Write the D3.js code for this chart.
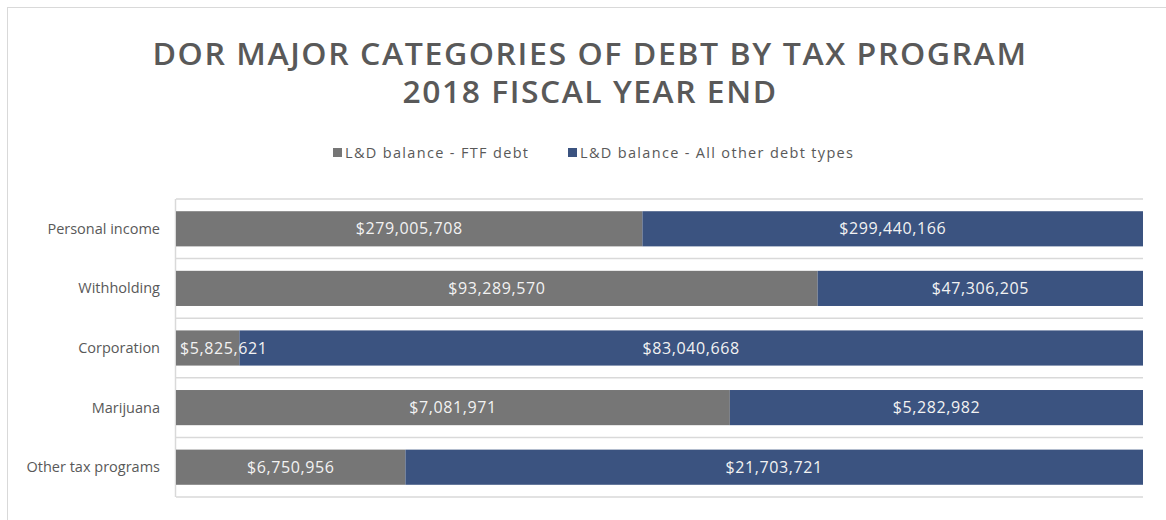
<!DOCTYPE html>
<html lang="en">
<head>
  <meta charset="UTF-8">
  <title>DOR Major Categories of Debt by Tax Program</title>
  <script src="https://d3js.org/d3.v7.min.js"></script>
  <style>
    body { margin: 0; background: #fff; font-family: "Open Sans", sans-serif; }
    .title { font-weight: 600; fill: #595959; font-size: 31px; letter-spacing: 1.5px; }
    .legend text, .ylabel { fill: #595959; font-size: 14.5px; }
    .value { fill: #f2f2f2; font-size: 16px; letter-spacing: 0.6px; }
  </style>
</head>
<body>
  <svg width="1166" height="520"></svg>

  <script>
    const categories = ["Personal income", "Withholding", "Corporation", "Marijuana", "Other tax programs"];
    const ftfDebt = [279005708, 93289570, 5825621, 7081971, 6750956];
    const otherDebt = [299440166, 47306205, 83040668, 5282982, 21703721];
    const seriesNames = ["L&D balance - FTF debt", "L&D balance - All other debt types"];
    const colors = ["#767676", "#3b5380"];

    const data = categories.map((c, i) => ({ cat: c, ftf: ftfDebt[i], other: otherDebt[i] }));

    const svg = d3.select("svg");
    const margin = { top: 199, right: 23, bottom: 23, left: 176 };
    const width = 1166, height = 520;

    // outer chart border
    svg.append("rect")
      .attr("x", 7.5).attr("y", 7.5)
      .attr("width", 1180).attr("height", 540)
      .attr("fill", "none").attr("stroke", "#d9d9d9");

    // title
    const titles = ["DOR MAJOR CATEGORIES OF DEBT BY TAX PROGRAM", "2018 FISCAL YEAR END"];
    const titleLen = [875, 375];
    svg.selectAll(".title")
      .data(titles)
      .enter()
      .append("text")
        .attr("class", "title")
        .attr("x", 590)
        .attr("y", (d, i) => 65 + i * 38)
        .attr("text-anchor", "middle")
        .attr("textLength", (d, i) => titleLen[i])
        .attr("lengthAdjust", "spacingAndGlyphs")
        .text(d => d);

    const x = d3.scaleLinear()
      .domain([0, 1])
      .range([margin.left, width - margin.right]);

    const y = d3.scaleBand()
      .domain(categories)
      .range([margin.top, height - margin.bottom])
      .paddingInner(0.41)
      .paddingOuter(0.205);

    // band separators
    const step = y.step();
    const y0 = y.range()[0];
    svg.append("g")
      .selectAll("line")
      .data(d3.range(categories.length + 1))
      .enter()
      .append("line")
        .attr("x1", x(0)).attr("x2", x(1))
        .attr("y1", i => y0 + i * step)
        .attr("y2", i => y0 + i * step)
        .attr("stroke", "#d9d9d9").attr("stroke-width", 1.5);

    // left axis line
    svg.append("line")
      .attr("x1", x(0) - 0.5).attr("x2", x(0) - 0.5)
      .attr("y1", y0).attr("y2", y0 + categories.length * step)
      .attr("stroke", "#d9d9d9").attr("stroke-width", 1.5);

    // category labels
    svg.selectAll(".ylabel")
      .data(categories)
      .enter()
      .append("text")
        .attr("class", "ylabel")
        .attr("x", 160)
        .attr("y", d => y(d) + y.bandwidth() / 2)
        .attr("dy", "0.35em")
        .attr("text-anchor", "end")
        .text(d => d);

    const stack = d3.stack().keys(["ftf", "other"]).offset(d3.stackOffsetExpand);
    const series = stack(data);
    const fmt = v => "$" + d3.format(",")(v);

    svg.selectAll(".series")
      .data(series)
      .enter()
      .append("g")
        .attr("fill", (d, i) => colors[i])
      .selectAll("rect")
      .data(d => d)
      .enter()
      .append("rect")
        .attr("x", d => x(d[0]))
        .attr("y", d => y(d.data.cat))
        .attr("width", d => x(d[1]) - x(d[0]))
        .attr("height", y.bandwidth());

    // value labels, drawn after all bars so none is hidden
    const labels = svg.append("g");
    series.forEach(s => {
      labels.selectAll(null)
        .data(s)
        .enter()
        .append("text")
          .attr("class", "value")
          .attr("text-anchor", "middle")
          .attr("y", d => y(d.data.cat) + y.bandwidth() / 2)
          .attr("dy", "0.35em")
          .text(d => fmt(d.data[s.key]))
          .attr("x", function(d) {
            const cx = (x(d[0]) + x(d[1])) / 2;
            const w = this.getComputedTextLength();
            return Math.max(cx, x(0) + 4 + w / 2);
          });
    });

    // legend
    const legend = svg.append("g").attr("class", "legend");
    const legX = [333, 568];
    const legLen = [183, 273];
    seriesNames.forEach((name, i) => {
      legend.append("rect")
        .attr("x", legX[i]).attr("y", 148)
        .attr("width", 9).attr("height", 9)
        .attr("fill", colors[i]);
      legend.append("text")
        .attr("x", legX[i] + 12).attr("y", 153)
        .attr("dy", "0.35em")
        .attr("textLength", legLen[i])
        .attr("lengthAdjust", "spacing")
        .text(name);
    });
  </script>
</body>
</html>
